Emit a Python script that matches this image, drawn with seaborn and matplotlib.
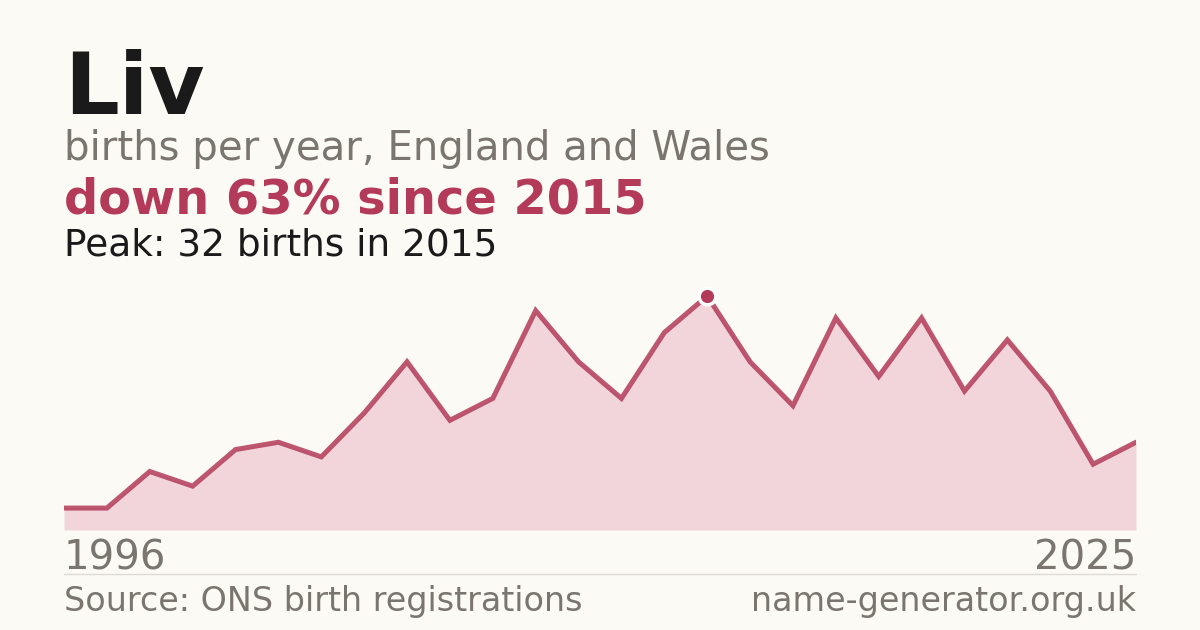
import numpy as np
import pandas as pd
import matplotlib
matplotlib.use("Agg")
import matplotlib.pyplot as plt
import seaborn as sns

# births per year for "Liv" (years with no published count are skipped)
years = [1996, 2001, 2002, 2003, 2004, 2005, 2006, 2007, 2008, 2009,
         2010, 2011, 2012, 2013, 2014, 2015, 2016, 2017, 2018, 2019,
         2020, 2021, 2022, 2023, 2024, 2025]
births = [3, 3, 8, 6, 11, 12, 10, 16, 23, 15,
          18, 30, 23, 18, 27, 32, 23, 17, 29, 21,
          29, 19, 26, 19, 9, 12]

name = "Liv"
subtitle = "births per year, England and Wales"
source = "Source: ONS birth registrations"
site = "name-generator.org.uk"

BG = "#fbfaf5"
RED = "#b33a58"
FILL = "#f2d5da"
GREY = "#7a756f"
INK = "#1a1a1a"

df = pd.DataFrame({"year": years, "births": births})
df["pos"] = np.arange(len(df))

peak_i = int(df["births"].idxmax())
peak_year = df.loc[peak_i, "year"]
peak_val = df.loc[peak_i, "births"]
drop = (peak_val - df["births"].iloc[-1]) / peak_val * 100
drop = int(drop + 0.5)  # round half up

sns.set_theme(style="white")
plt.rcParams["font.family"] = ["DejaVu Sans"]

fig = plt.figure(figsize=(12, 6.3), dpi=100, facecolor=BG)
H = 630.0

def fy(px):
    return 1 - px / H

ax = fig.add_axes([64 / 1200, (H - 530) / H, 1072 / 1200, 234 / H])
ax.set_facecolor(BG)
ax.fill_between(df["pos"], df["births"], 0, color=FILL, lw=0)
sns.lineplot(data=df, x="pos", y="births", ax=ax, color=RED, lw=3.6,
             alpha=0.85, solid_joinstyle="miter")
ax.plot(peak_i, peak_val, "o", ms=12, color=RED, mec="white", mew=2.5,
        clip_on=False, zorder=5)
ax.set_xlim(0, len(df) - 1)
ax.set_ylim(0, peak_val)
ax.axis("off")

fig.text(64 / 1200, fy(114), name, fontsize=62, fontweight="bold",
         color=INK, va="baseline")
fig.text(64 / 1200, fy(160), subtitle, fontsize=29, color=GREY,
         va="baseline")
fig.text(64 / 1200, fy(214), f"down {drop}% since {peak_year}",
         fontsize=34.5, fontweight="bold", color=RED, va="baseline")
fig.text(64 / 1200, fy(255), f"Peak: {peak_val} births in {peak_year}",
         fontsize=27, color=INK, va="baseline")

fig.text(64 / 1200, fy(569), str(years[0]), fontsize=29, color=GREY,
         va="baseline")
fig.text(1136 / 1200, fy(569), str(years[-1]), fontsize=29, color=GREY,
         va="baseline", ha="right")
fig.add_artist(plt.Line2D([64 / 1200, 1136 / 1200], [fy(574), fy(574)],
                          color="#dedbd5", lw=1))
fig.text(64 / 1200, fy(611), source, fontsize=24, color=GREY,
         va="baseline")
fig.text(1136 / 1200, fy(611), site, fontsize=24, color=GREY,
         va="baseline", ha="right")

fig.savefig("out.png", dpi=100, facecolor=BG)
